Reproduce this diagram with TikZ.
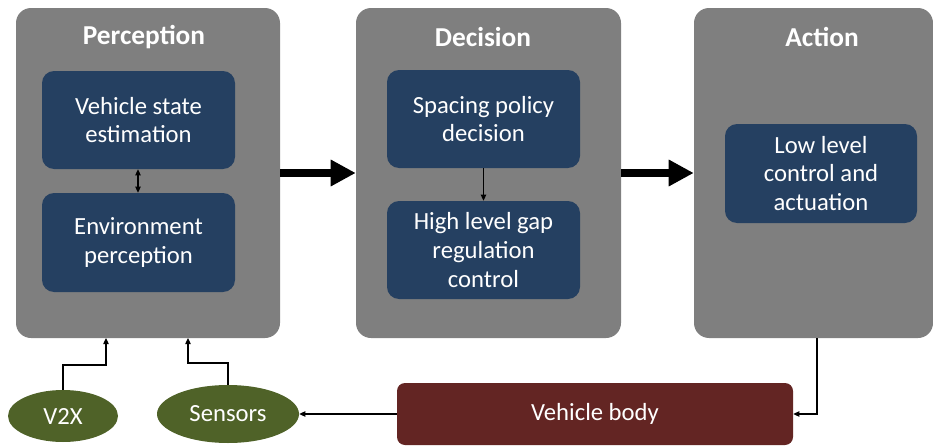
\documentclass[tikz,border=0pt]{standalone}
\usepackage{fontspec}
\setmainfont{Carlito}
\usetikzlibrary{arrows.meta}
\definecolor{panelgray}{HTML}{7F7F7F}
\definecolor{boxblue}{HTML}{254061}
\definecolor{ovalgreen}{HTML}{4F6228}
\definecolor{bodyred}{HTML}{632523}
\tikzset{
  panel/.style={fill=panelgray, draw=none, rounded corners=15*0.75pt, minimum width=#1*0.75pt, minimum height=330*0.75pt, inner sep=0pt},
  paneltitle/.style={text=white, font=\fontsize{20.5}{24}\selectfont\bfseries, inner sep=0pt},
  innerbox/.style={fill=boxblue, draw=none, rounded corners=12*0.75pt, text=white, align=center, minimum width=193*0.75pt, minimum height=#1*0.75pt, inner sep=0pt, font=\fontsize{18.5}{21.5}\selectfont},
  oval/.style={ellipse, fill=ovalgreen, draw=none, text=white, inner sep=0pt, font=\fontsize{18.5}{21}\selectfont},
  bodybox/.style={fill=bodyred, draw=none, rounded corners=8*0.75pt, text=white, minimum width=396*0.75pt, minimum height=62*0.75pt, inner sep=0pt, font=\fontsize{18.5}{21}\selectfont},
  bigarrow/.style={line width=8*0.75pt, -{Triangle[length=25*0.75pt, width=25*0.75pt]}},
  thinarrow/.style={line width=0.9pt, -{Triangle[length=4.5pt, width=4pt]}},
  thindouble/.style={line width=0.9pt, {Triangle[length=4.5pt, width=4pt]}-{Triangle[length=4.5pt, width=4pt]}},
}
\usetikzlibrary{shapes.geometric}
\begin{document}
\begin{tikzpicture}[x=0.75pt, y=-0.75pt]
\useasboundingbox (0,0) rectangle (933,446);
% panels
\node[panel=264] (perc) at (148,173) {};
\node[panel=265] (dec) at (488.5,173) {};
\node[panel=239] (act) at (813.5,173) {};
% titles
\node[paneltitle] (tperc) at (144,37) {Perception};
\node[paneltitle] (tdec) at (483,37) {Decision};
\node[paneltitle] (tact) at (822,37) {Action};
% inner boxes
\node[innerbox=98] (vse) at (138.5,120) {Vehicle state\\estimation};
\node[innerbox=99] (env) at (138.5,242.5) {Environment\\perception};
\node[innerbox=98] (spd) at (483.5,119) {Spacing policy\\decision};
\node[innerbox=98] (hlg) at (483.5,250) {High level gap\\regulation\\control};
\node[innerbox=99, minimum width=192*0.75pt] (llc) at (821,173.5) {Low level\\control and\\actuation};
% bottom nodes
\node[oval, minimum width=110*0.75pt, minimum height=52*0.75pt] (v2x) at (63,416) {V2X};
\node[oval, minimum width=142*0.75pt, minimum height=58*0.75pt] (sens) at (228,414) {Sensors};
\node[bodybox] (vb) at (595,414) {Vehicle body};
% helper coordinates
\coordinate (pin1) at (106,338);
\coordinate (pin2) at (188,338);
\coordinate (aout) at (817,338);
% connectors
\draw[bigarrow] (perc.east) -- (dec.west);
\draw[bigarrow] (dec.east) -- (act.west);
\draw[thindouble] (vse.south -| 138,0) -- (env.north -| 138,0);
\draw[thinarrow] (spd.south) -- (hlg.north);
\draw[thinarrow] (v2x.north) |- (106,365) -- (pin1);
\draw[thinarrow] (sens.north) |- (188,363) -- (pin2);
\draw[thinarrow] (aout) |- (vb.east);
\draw[thinarrow] (vb.west) -- (sens.east);
\end{tikzpicture}
\end{document}
